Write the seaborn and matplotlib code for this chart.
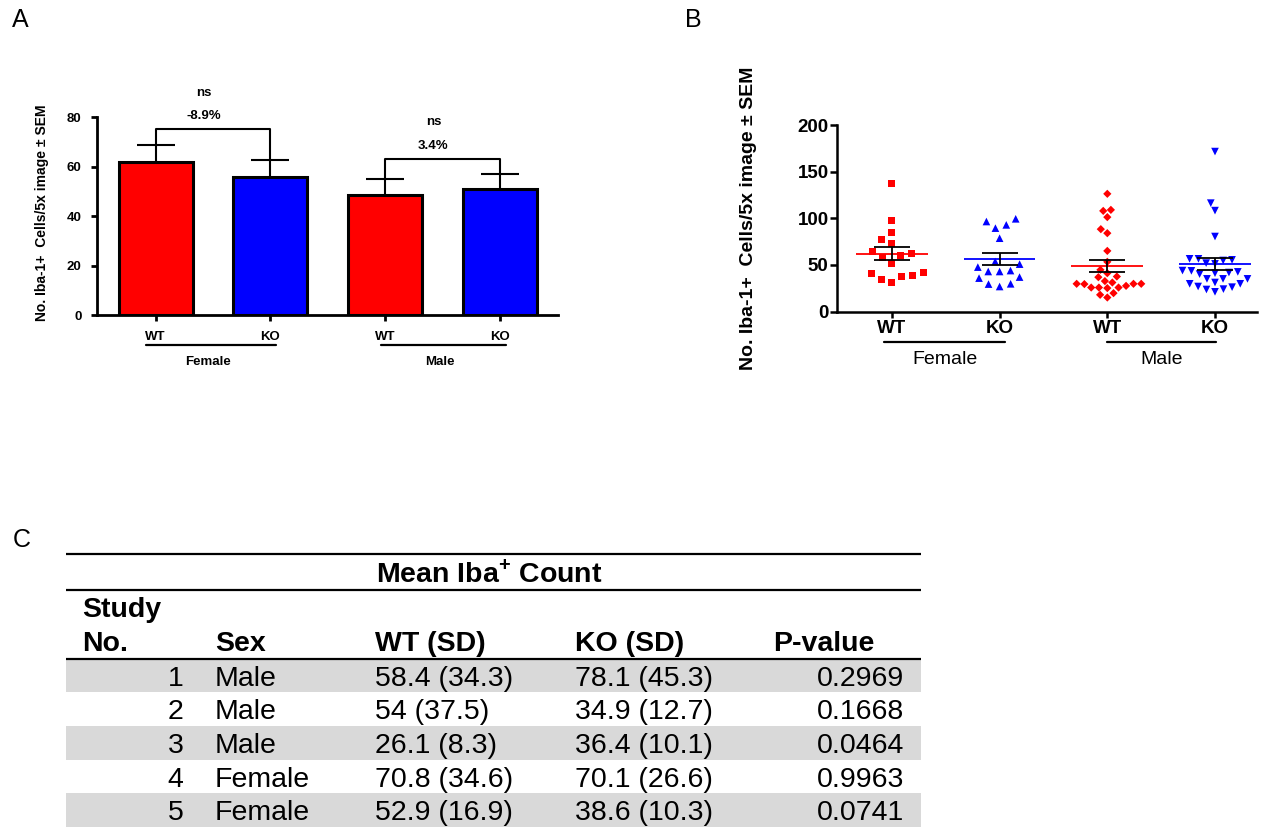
import numpy as np
import pandas as pd
import matplotlib
matplotlib.use("Agg")
import matplotlib.pyplot as plt
import seaborn as sns

# ---- data ----
groups = ["Female WT", "Female KO", "Male WT", "Male KO"]
genotype_labels = ["WT", "KO", "WT", "KO"]
sex_labels = ["Female", "Male"]

female_wt = [136.8, 97.5, 84.7, 76.8, 72.6, 64.3, 62.6, 59.7, 58.3, 51.9,
             41.2, 42.2, 37.5, 38.3, 34.7, 31.1]
female_ko = [99.4, 96.5, 92.9, 89.4, 78.6, 53.6, 50.8, 47.6, 42.9, 42.9,
             43.9, 36.9, 35.8, 29.4, 26.8, 29.7]
male_wt = [126.2, 109.0, 107.9, 101.2, 88.3, 84.0, 65.0, 53.3, 44.7, 41.1,
           36.8, 37.5, 32.6, 31.1, 29.7, 29.4, 29.7, 29.7, 27.5, 25.7,
           25.7, 25.1, 25.7, 19.7, 17.9, 15.0]
male_ko = [171.5, 116.2, 108.2, 80.4, 56.5, 55.4, 54.7, 56.5, 51.9, 51.1,
           43.9, 41.8, 41.1, 40.1, 42.5, 43.6, 35.0, 35.0, 35.0, 29.7,
           26.1, 24.0, 21.1, 23.6, 26.8, 29.7, 31.1]

sig_labels = ["ns", "ns"]
pct_labels = ["-8.9%", "3.4%"]

# table C
study_no = [1, 2, 3, 4, 5]
study_sex = ["Male", "Male", "Male", "Female", "Female"]
wt_mean = [58.4, 54, 26.1, 70.8, 52.9]
wt_sd = [34.3, 37.5, 8.3, 34.6, 16.9]
ko_mean = [78.1, 34.9, 36.4, 70.1, 38.6]
ko_sd = [45.3, 12.7, 10.1, 26.6, 10.3]
p_value = [0.2969, 0.1668, 0.0464, 0.9963, 0.0741]

RED = "#ff0000"
BLUE = "#0000ff"
colors = [RED, BLUE, RED, BLUE]
markers = ["s", "^", "D", "v"]
marker_sizes = [5.0, 5.5, 4.2, 5.5]
marker_pad = [2.8, 2.3, 1.1, 0.6]

values = [female_wt, female_ko, male_wt, male_ko]
df = pd.DataFrame({
    "group": np.repeat(groups, [len(v) for v in values]),
    "count": np.concatenate(values),
})
stats = df.groupby("group")["count"].agg(["mean", "sem"]).reindex(groups)
mean = stats["mean"].to_numpy()
sem = stats["sem"].to_numpy()
xpos = np.arange(len(groups))

sns.set_style("white")
plt.rcParams["font.family"] = ["Liberation Sans", "DejaVu Sans"]
plt.rcParams["mathtext.fontset"] = "custom"
plt.rcParams["mathtext.rm"] = "Liberation Sans"
plt.rcParams["mathtext.bf"] = "Liberation Sans:bold"
for key in ["text.color", "axes.labelcolor", "xtick.color", "ytick.color", "axes.edgecolor"]:
    plt.rcParams[key] = "black"

W, H = 1272, 827
fig = plt.figure(figsize=(W / 100, H / 100), dpi=100)


def px_axes(left, top, right, bottom):
    return fig.add_axes([left / W, 1 - bottom / H, (right - left) / W, (bottom - top) / H])


ylabel = "No. Iba-1+  Cells/5x image \u00b1 SEM"
fsA = 9.5

# ---- panel A: bars ----
axA = px_axes(97, 117.3, 558, 315.3)
sns.barplot(data=df, x="group", y="count", order=groups, hue="group",
            hue_order=groups, palette=colors, saturation=1, legend=False,
            errorbar=None, width=0.645, edgecolor="black", linewidth=2.2, ax=axA)
axA.vlines(xpos, mean, mean + sem, color="black", lw=1.5, zorder=3)
axA.hlines(mean + sem, xpos - 0.165, xpos + 0.165, color="black", lw=1.5, zorder=3)

bracket_y = [75.2, 63.3]
for k, (i, j) in enumerate([(0, 1), (2, 3)]):
    yb = bracket_y[k]
    axA.plot([i, i, j, j], [mean[i] + sem[i], yb, yb, mean[j] + sem[j]],
             color="black", lw=1.5, clip_on=False)
    xc = (i + j) / 2 - 0.08
    axA.text(xc, yb + 5.2, pct_labels[k], ha="center", va="center",
             fontsize=fsA, fontweight="bold", clip_on=False)
    axA.text(xc, yb + 14.8, sig_labels[k], ha="center", va="center",
             fontsize=fsA, fontweight="bold", clip_on=False)

axA.set_xlim(-0.51, 3.505)
axA.set_ylim(0, 80)
axA.set_yticks([0, 20, 40, 60, 80])
axA.set_xticks(xpos)
axA.set_xticklabels(genotype_labels, fontweight="bold", fontsize=fsA)
for t in axA.get_yticklabels():
    t.set_fontweight("bold")
    t.set_fontsize(fsA)
axA.tick_params(axis="x", direction="out", length=4, width=2, pad=7, bottom=True)
axA.tick_params(axis="y", direction="out", length=4, width=2, pad=7, left=True)
axA.set_xlabel("")
axA.set_ylabel(ylabel, fontsize=fsA + 0.5, fontweight="bold")
axA.yaxis.set_label_coords(-0.105, 0.52)
for s in ["top", "right"]:
    axA.spines[s].set_visible(False)
for s in ["left", "bottom"]:
    axA.spines[s].set_linewidth(2)

transA = axA.get_xaxis_transform()
for (a, b), lbl in zip([(-0.08, 1.045), (1.96, 3.05)], sex_labels):
    axA.plot([a, b], [-0.15, -0.15], transform=transA, color="black", lw=1.6, clip_on=False)
    axA.text((a + b) / 2 - 0.03, -0.234, lbl, transform=transA, ha="center",
             va="center", fontsize=fsA, fontweight="bold")

# ---- panel B: scatter with mean +/- SEM ----
fsB = 13.5
axB = px_axes(837, 125, 1257, 311.5)
for grp, c, m, ms, lw in zip(groups, colors, markers, marker_sizes, marker_pad):
    sns.swarmplot(data=df[df["group"] == grp], x="group", y="count", order=groups,
                  color=c, marker=m, size=ms, linewidth=lw, edgecolor="none",
                  ax=axB, zorder=2)
axB.hlines(mean, xpos - 0.333, xpos + 0.333, colors=colors, lw=1.3, zorder=3)
axB.vlines(xpos, mean - sem, mean + sem, color="black", lw=1.3, zorder=4)
axB.hlines(np.r_[mean - sem, mean + sem], np.r_[xpos, xpos] - 0.167,
           np.r_[xpos, xpos] + 0.167, color="black", lw=1.3, zorder=4)

axB.set_xlim(-0.51, 3.39)
axB.set_ylim(0, 200)
axB.set_yticks([0, 50, 100, 150, 200])
axB.set_xticks(xpos)
axB.set_xticklabels(genotype_labels, fontweight="bold", fontsize=fsB)
for t in axB.get_yticklabels():
    t.set_fontweight("bold")
    t.set_fontsize(fsB)
axB.tick_params(axis="x", direction="out", length=4, width=1.8, pad=2, bottom=True)
axB.tick_params(axis="y", direction="out", length=5, width=1.8, pad=1, left=True)
axB.set_xlabel("")
axB.set_ylabel(ylabel, fontsize=14, fontweight="bold")
axB.yaxis.set_label_coords(-0.19, 0.5)
for s in ["top", "right"]:
    axB.spines[s].set_visible(False)
for s in ["left", "bottom"]:
    axB.spines[s].set_linewidth(1.8)

transB = axB.get_xaxis_transform()
for (a, b), lbl in zip([(-0.07, 1.05), (2.0, 3.01)], sex_labels):
    axB.plot([a, b], [-0.1635, -0.1635], transform=transB, color="black", lw=1.6, clip_on=False)
    axB.text((a + b) / 2, -0.26, lbl, transform=transB, ha="center",
             va="center", fontsize=14)

# ---- panel C: table ----
axC = px_axes(66, 540, 921, 827)
axC.set_xlim(66, 921)
axC.set_ylim(827, 540)
axC.axis("off")

fsC = 20.5
row_top = 658.7
row_h = (827 - row_top) / len(study_no)
for r in range(len(study_no)):
    top = row_top + r * row_h
    if r % 2 == 0:
        axC.axhspan(top, top + row_h, color="#d9d9d9", lw=0, zorder=0)
    base = top + 27
    axC.text(183.3, base, str(study_no[r]), ha="right", va="baseline", fontsize=fsC)
    axC.text(215, base, study_sex[r], ha="left", va="baseline", fontsize=fsC)
    axC.text(375, base, f"{wt_mean[r]:g} ({wt_sd[r]:g})", ha="left", va="baseline", fontsize=fsC)
    axC.text(575, base, f"{ko_mean[r]:g} ({ko_sd[r]:g})", ha="left", va="baseline", fontsize=fsC)
    axC.text(904, base, f"{p_value[r]:.4f}", ha="right", va="baseline", fontsize=fsC)

for yl in [553.7, 590, 658.7]:
    axC.axhline(yl, color="black", lw=1.6, zorder=2)

hdr = dict(va="baseline", fontsize=fsC, fontweight="bold")
axC.text(489, 582.3, r"Mean Iba$^{\mathbf{+}}$ Count", ha="center", **hdr)
axC.text(81.7, 616.7, "Study", ha="left", **hdr)
axC.text(81.7, 650.7, "No.", ha="left", **hdr)
axC.text(215, 650.7, "Sex", ha="left", **hdr)
axC.text(375, 650.7, "WT (SD)", ha="left", **hdr)
axC.text(575, 650.7, "KO (SD)", ha="left", **hdr)
axC.text(773, 650.7, "P-value", ha="left", **hdr)

# panel letters
for lbl, (lx, ly) in zip(["A", "B", "C"], [(12, 8), (685, 8), (13, 528)]):
    fig.text(lx / W, 1 - ly / H, lbl, ha="left", va="top", fontsize=18)

fig.savefig("out.png", dpi=100)
